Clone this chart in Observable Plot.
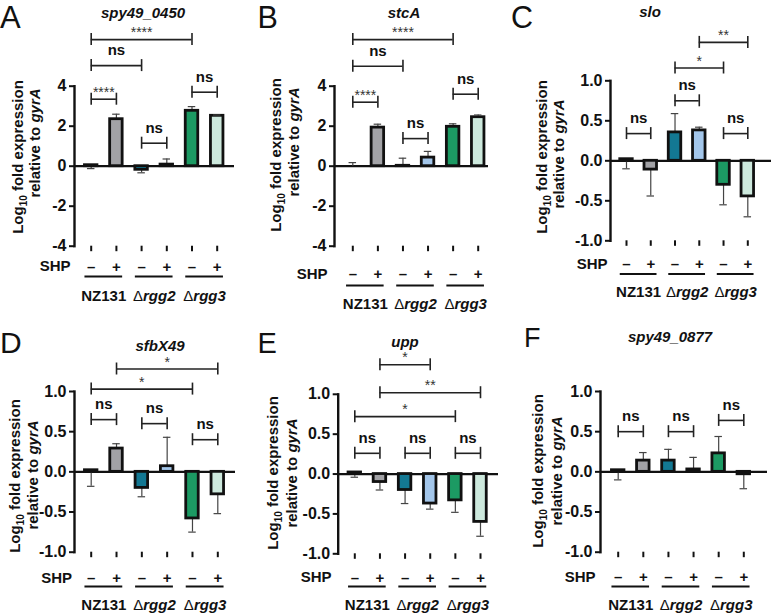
<!DOCTYPE html>
<html><head><meta charset="utf-8">
<script src="https://cdn.jsdelivr.net/npm/d3@7"></script>
<script src="https://cdn.jsdelivr.net/npm/@observablehq/plot@0.6"></script>
<style>
body{margin:0;background:#fff;}
#fig{position:relative;width:771px;height:615px;overflow:hidden;background:#fff;font-family:'Liberation Sans',Arial,Helvetica,sans-serif;}
.panel{position:absolute;}
.panel svg{overflow:visible;}
</style></head>
<body><div id="fig"></div>
<script>
// ---------- data ----------
const conditions = ["NZ131 –", "NZ131 +", "Δrgg2 –", "Δrgg2 +", "Δrgg3 –", "Δrgg3 +"];
const strains = ["NZ131", "Δrgg2", "Δrgg3"];
const shpLabels = ["–", "+", "–", "+", "–", "+"];
const barColors = ["#ffffff", "#a2a2a6", "#137893", "#a3c6ea", "#1c9a63", "#cde9dd"];
const genes = ["spy49_0450", "stcA", "slo", "sfbX49", "upp", "spy49_0877"];
const panelLetters = ["A", "B", "C", "D", "E", "F"];
const yTicksWide = [-4, -2, 0, 2, 4];
const yTicksNarrow = [-1, -0.5, 0, 0.5, 1];

const mean_spy49_0450 = [0.05, 2.35, -0.18, 0.08, 2.77, 2.52];
const errEnd_spy49_0450 = [-0.12, 2.6, -0.33, 0.36, 2.98, 2.56];
const mean_stcA = [0.0, 1.93, 0.02, 0.43, 1.97, 2.45];
const errEnd_stcA = [0.18, 2.1, 0.4, 0.74, 2.12, 2.56];
const mean_slo = [0.02, -0.11, 0.355, 0.38, -0.3, -0.445];
const errEnd_slo = [-0.1, -0.44, 0.59, 0.42, -0.55, -0.7];
const mean_sfbX49 = [0.02, 0.29, -0.2, 0.07, -0.58, -0.28];
const errEnd_sfbX49 = [-0.18, 0.35, -0.31, 0.43, -0.75, -0.52];
const mean_upp = [0.02, -0.1, -0.2, -0.37, -0.33, -0.6];
const errEnd_upp = [-0.04, -0.2, -0.37, -0.44, -0.48, -0.78];
const mean_spy49_0877 = [0.02, 0.14, 0.14, 0.03, 0.23, -0.03];
const errEnd_spy49_0877 = [-0.1, 0.24, 0.28, 0.18, 0.44, -0.21];

// significance brackets: [from, to, level, label]
const brackets_spy49_0450 = [
  ["NZ131 –", "Δrgg3 –", 6.33, "****"], ["NZ131 –", "Δrgg2 –", 5.03, "ns"],
  ["NZ131 –", "NZ131 +", 3.35, "****"], ["Δrgg2 –", "Δrgg2 +", 1.15, "ns"], ["Δrgg3 –", "Δrgg3 +", 3.7, "ns"]];
const brackets_stcA = [
  ["NZ131 –", "Δrgg3 –", 6.33, "****"], ["NZ131 –", "Δrgg2 –", 5.0, "ns"],
  ["NZ131 –", "NZ131 +", 3.2, "****"], ["Δrgg2 –", "Δrgg2 +", 1.38, "ns"], ["Δrgg3 –", "Δrgg3 +", 3.6, "ns"]];
const brackets_slo = [
  ["Δrgg2 +", "Δrgg3 +", 1.48, "**"], ["Δrgg2 –", "Δrgg3 –", 1.16, "*"],
  ["NZ131 –", "NZ131 +", 0.34, "ns"], ["Δrgg2 –", "Δrgg2 +", 0.75, "ns"], ["Δrgg3 –", "Δrgg3 +", 0.34, "ns"]];
const brackets_sfbX49 = [
  ["NZ131 +", "Δrgg3 +", 1.28, "*"], ["NZ131 –", "Δrgg3 –", 1.03, "*"],
  ["NZ131 –", "NZ131 +", 0.65, "ns"], ["Δrgg2 –", "Δrgg2 +", 0.6, "ns"], ["Δrgg3 –", "Δrgg3 +", 0.4, "ns"]];
const brackets_upp = [
  ["NZ131 +", "Δrgg2 +", 1.37, "*"], ["NZ131 +", "Δrgg3 +", 1.02, "**"], ["NZ131 –", "Δrgg3 –", 0.72, "*"],
  ["NZ131 –", "NZ131 +", 0.26, "ns"], ["Δrgg2 –", "Δrgg2 +", 0.26, "ns"], ["Δrgg3 –", "Δrgg3 +", 0.26, "ns"]];
const brackets_spy49_0877 = [
  ["NZ131 –", "NZ131 +", 0.5, "ns"], ["Δrgg2 –", "Δrgg2 +", 0.5, "ns"], ["Δrgg3 –", "Δrgg3 +", 0.64, "ns"]];

// ---------- layout (page pixels) ----------
const layouts = [
  {box:[0,0,257,305], axisX:74, c1:90.7, c6:216.7, zeroEnd:234, yTop:85.7, yBot:245.7, title:[143,17.5], letter:[0,28], letterSize:31, yt1:[22.5,157], yt2:[40,143], shp:[70,266], under:276, group:295.5},
  {box:[257,0,257,305], axisX:334, c1:352.3, c6:477.7, zeroEnd:488, yTop:85.7, yBot:245.7, title:[404,17.5], letter:[257.5,27.5], letterSize:30.5, yt1:[280.5,155], yt2:[298.5,142], shp:[327,273.5], under:285, group:303.5},
  {box:[514,0,257,305], axisX:610, c1:626, c6:747.3, zeroEnd:771, yTop:80.3, yBot:240.3, title:[650,17], letter:[511,27.5], letterSize:30.5, yt1:[547,157], yt2:[564,154], shp:[607,263.5], under:273.5, group:292},
  {box:[0,305,257,310], axisX:74, c1:90.7, c6:217.3, zeroEnd:235, yTop:391, yBot:551.7, title:[160,350.5], letter:[0,353], letterSize:30, yt1:[20,476], yt2:[37.5,475], shp:[71.5,577.5], under:586, group:604.5},
  {box:[257,305,257,310], axisX:337.7, c1:354.3, c6:480, zeroEnd:498, yTop:393.8, yBot:553.3, title:[405,347], letter:[257.5,353], letterSize:29, yt1:[278,473], yt2:[296.5,473], shp:[331,577], under:586, group:604.5},
  {box:[514,305,257,310], axisX:600, c1:617.7, c6:743.3, zeroEnd:767, yTop:391, yBot:551.7, title:[670,342], letter:[524,347], letterSize:27, yt1:[542.5,471], yt2:[561.5,471], shp:[595,576.5], under:586, group:604.5}
];

const panels = [
  {mean: mean_spy49_0450, errEnd: errEnd_spy49_0450, brackets: brackets_spy49_0450, yDomain: [-4, 4], yTicks: yTicksWide, digits: 0},
  {mean: mean_stcA, errEnd: errEnd_stcA, brackets: brackets_stcA, yDomain: [-4, 4], yTicks: yTicksWide, digits: 0},
  {mean: mean_slo, errEnd: errEnd_slo, brackets: brackets_slo, yDomain: [-1, 1], yTicks: yTicksNarrow, digits: 1},
  {mean: mean_sfbX49, errEnd: errEnd_sfbX49, brackets: brackets_sfbX49, yDomain: [-1, 1], yTicks: yTicksNarrow, digits: 1},
  {mean: mean_upp, errEnd: errEnd_upp, brackets: brackets_upp, yDomain: [-1, 1], yTicks: yTicksNarrow, digits: 1},
  {mean: mean_spy49_0877, errEnd: errEnd_spy49_0877, brackets: brackets_spy49_0877, yDomain: [-1, 1], yTicks: yTicksNarrow, digits: 1}
];

const FONT = "'Liberation Sans', Arial, Helvetica, sans-serif";
const INK = "#111";
const fig = d3.select("#fig");

panels.forEach((P, k) => {
  const L = layouts[k];
  const [bx, by, bw, bh] = L.box;
  const step = (L.c6 - L.c1) / 5;
  const bandW = 12.5;
  const pin = 1 - bandW / step;
  const tickSize = 5;
  const yMin = P.yDomain[0];
  const rows = conditions.map((c, i) => ({cat: c, mean: P.mean[i], err: P.errEnd[i], color: barColors[i]}));
  const brk = P.brackets.map(([from, to, level, label]) => ({from, to, level, label}));
  const groups = strains.map((s, i) => ({name: s, first: conditions[2 * i], second: conditions[2 * i + 1]}));

  const bracketText = brk.map(b => Plot.text([b], {
    x: "from", y: "level", text: "label",
    dx: (conditions.indexOf(b.to) - conditions.indexOf(b.from)) * step / 2,
    dy: b.label === "ns" ? -10.5 : -2.5,
    lineAnchor: "bottom", textAnchor: "middle",
    fontSize: b.label === "ns" ? 15 : 14,
    fontWeight: b.label === "ns" ? "bold" : "normal",
    fill: b.label === "ns" ? INK : "#333"
  }));

  const chart = Plot.plot({
    width: bw, height: bh,
    marginLeft: L.axisX - bx, marginRight: bx + bw - L.zeroEnd,
    marginTop: L.yTop - by, marginBottom: by + bh - L.yBot,
    style: {fontFamily: FONT, color: INK, background: "transparent", maxWidth: "none", overflow: "visible"},
    x: {type: "band", domain: conditions, range: [L.c1 - bx - step / 2, L.c6 - bx + step / 2],
        paddingInner: pin, paddingOuter: pin / 2, round: false, label: null},
    y: {domain: P.yDomain, label: null},
    color: {type: "identity"},
    marks: [
      Plot.ruleY([0], {stroke: INK, strokeWidth: 2.2}),
      Plot.ruleX(rows, {x: "cat", y1: "mean", y2: "err", stroke: "#444", strokeWidth: 1.2}),
      Plot.barY(rows, {x: "cat", y1: () => 0, y2: "mean", fill: "color", stroke: INK, strokeWidth: 2.8}),
      Plot.tickY(rows, {x: "cat", y: "err", stroke: "#444", strokeWidth: 1.2, insetLeft: 2.5, insetRight: 2.5}),
      Plot.frame({anchor: "left", stroke: INK, strokeWidth: 2.4}),
      Plot.axisY({ticks: P.yTicks, tickSize, tickPadding: 3, tickFormat: d => d.toFixed(P.digits),
                  fontSize: 16, fontWeight: "bold", stroke: INK, strokeWidth: 2, label: null}),
      Plot.axisX({tickSize: 5.5, tickPadding: L.shp[1] - L.yBot - 5.5 - 5.4,
                  tickFormat: c => shpLabels[conditions.indexOf(c)],
                  fontSize: 15, fontWeight: "bold", stroke: INK, strokeWidth: 2, label: null}),
      Plot.text(["SHP"], {text: d => d, frameAnchor: "bottom-left", textAnchor: "end", lineAnchor: "middle",
                  dx: L.shp[0] - L.axisX, dy: L.shp[1] - L.yBot, fontSize: 15, fontWeight: "bold", fill: INK}),
      Plot.ruleY(groups, {x1: "first", x2: "second", y: () => yMin, dy: L.under - L.yBot, stroke: INK, strokeWidth: 2}),
      Plot.text(groups, {x: "first", y: () => yMin, text: "name", dx: step / 2, dy: L.group - L.yBot,
                  lineAnchor: "middle", fontSize: 15, fontWeight: "bold", fill: INK}),
      Plot.ruleY(brk, {x1: "from", x2: "to", y: "level", insetLeft: bandW / 2, insetRight: bandW / 2, stroke: "#222", strokeWidth: 1.6}),
      Plot.ruleX(brk, {x: "from", y1: "level", y2: "level", insetTop: -6, insetBottom: -6, stroke: "#222", strokeWidth: 1.6}),
      Plot.ruleX(brk, {x: "to", y1: "level", y2: "level", insetTop: -6, insetBottom: -6, stroke: "#222", strokeWidth: 1.6}),
      ...bracketText
    ]
  });

  const svg = d3.select(chart);
  // italic gene part of strain names
  svg.selectAll("text").filter(function () {
    return this.textContent.startsWith("Δ") && !this.querySelector("tspan");
  }).each(function () {
    const t = this.textContent;
    const s = d3.select(this);
    s.text(null);
    s.append("tspan").attr("font-weight", "normal").text("Δ");
    s.append("tspan").attr("font-style", "italic").text(t.slice(1));
  });

  const g = svg.append("g").attr("font-family", FONT).attr("font-weight", "bold").attr("fill", INK);
  // panel letter
  g.append("text").attr("x", L.letter[0] - bx).attr("y", L.letter[1] - by).attr("text-anchor", "start")
    .attr("font-size", L.letterSize).attr("font-weight", "normal").text(panelLetters[k]);
  // gene title
  g.append("text").attr("x", L.title[0] - bx).attr("y", L.title[1] - by).attr("text-anchor", "middle")
    .attr("font-size", 15).attr("font-style", "italic").text(genes[k]);
  // y-axis title (two lines)
  const t1 = g.append("text").attr("text-anchor", "middle").attr("font-size", 15)
    .attr("transform", `translate(${L.yt1[0] - bx},${L.yt1[1] - by}) rotate(-90)`);
  t1.append("tspan").text("Log");
  t1.append("tspan").attr("font-size", 10).attr("dy", 4).text("10");
  t1.append("tspan").attr("dy", -4).text(" fold expression");
  const t2 = g.append("text").attr("text-anchor", "middle").attr("font-size", 15)
    .attr("transform", `translate(${L.yt2[0] - bx},${L.yt2[1] - by}) rotate(-90)`);
  t2.append("tspan").text("relative to ");
  t2.append("tspan").attr("font-style", "italic").text("gyrA");

  fig.append("div").attr("class", "panel").style("left", bx + "px").style("top", by + "px")
    .node().appendChild(chart);
});
</script>
</body></html>
